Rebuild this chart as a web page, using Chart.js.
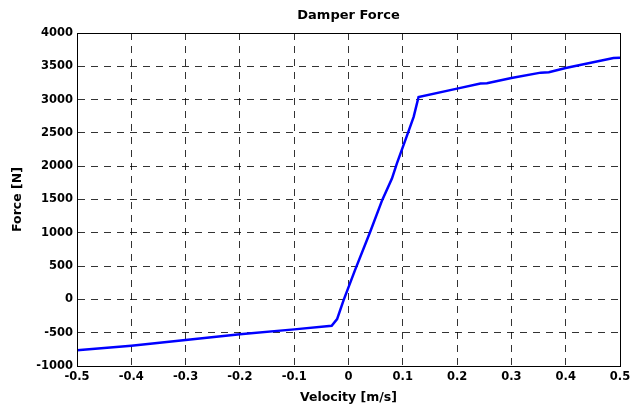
<!DOCTYPE html>
<html>
<head>
<meta charset="utf-8">
<script src="https://cdn.jsdelivr.net/npm/chart.js@4"></script>
<style>
  html, body { margin: 0; padding: 0; background: #fff; }
  #wrap { width: 630px; height: 410px; }
</style>
</head>
<body>
<div id="wrap"><canvas id="chart-damper"></canvas></div>
<script>
// --- Damper force vs velocity ---
const velocity = [-0.5, -0.4, -0.3, -0.2, -0.1, -0.031, -0.021, -0.009, 0.012, 0.040, 0.062, 0.080, 0.089, 0.109, 0.120, 0.129, 0.2, 0.243, 0.255, 0.3, 0.354, 0.369, 0.4, 0.488, 0.5];
const force    = [-765, -695, -610, -525, -450, -395, -295, -10, 440, 1015, 1490, 1815, 2040, 2490, 2740, 3040, 3165, 3240, 3245, 3325, 3405, 3410, 3475, 3625, 3630];

const titleText = "Damper Force";
const xLabel = "Velocity [m/s]";
const yLabel = "Force [N]";

const FONT = "'DejaVu Sans', sans-serif";

// box around plot area + title centred over it (MATLAB style)
const frame = {
  id: "frame",
  afterDraw(chart) {
    const { ctx, chartArea: a } = chart;
    ctx.save();
    ctx.strokeStyle = "#000";
    ctx.lineWidth = 1;
    ctx.strokeRect(a.left + 0.5, a.top + 0.5, a.right - a.left, a.bottom - a.top);
    ctx.fillStyle = "#000";
    ctx.font = "bold 13px " + FONT;
    ctx.textAlign = "center";
    ctx.textBaseline = "middle";
    ctx.fillText(titleText, (a.left + a.right) / 2, 16);
    ctx.restore();
  }
};

const points = velocity.map((v, i) => ({ x: v, y: force[i] }));

new Chart(document.getElementById("chart-damper").getContext("2d"), {
  type: "line",
  data: {
    datasets: [{
      data: points,
      borderColor: "#0000ff",
      borderWidth: 2.5,
      pointRadius: 0,
      tension: 0,
      fill: false
    }]
  },
  options: {
    responsive: true,
    maintainAspectRatio: false,
    animation: false,
    layout: { padding: { top: 33, right: 0, left: 0, bottom: 0 } },
    plugins: {
      legend: { display: false },
      title: { display: false },
      tooltip: { enabled: false }
    },
    scales: {
      x: {
        type: "linear",
        min: -0.5,
        max: 0.5,
        afterFit: s => { s.height = 44; s.paddingRight = 10; },
        ticks: {
          stepSize: 0.1,
          color: "#000",
          padding: 4,
          maxRotation: 0,
          font: { family: FONT, size: 11.5, weight: "bold" },
          callback: v => String(Math.round(v * 10) / 10)
        },
        grid: { color: "rgba(0,0,0,0.8)", lineWidth: 1, drawTicks: false },
        border: { display: true, color: "#000", dash: [7, 6] },
        title: {
          display: true,
          text: xLabel,
          color: "#000",
          padding: { top: 0, bottom: 5 },
          font: { family: FONT, size: 12.5, weight: "bold" }
        }
      },
      y: {
        min: -1000,
        max: 4000,
        afterFit: s => { s.width = 77; },
        ticks: {
          stepSize: 500,
          color: "#000",
          padding: 4,
          font: { family: FONT, size: 11.5, weight: "bold" },
          callback: v => String(v)
        },
        grid: { color: "rgba(0,0,0,0.8)", lineWidth: 1, drawTicks: false },
        border: { display: true, color: "#000", dash: [7, 6] },
        title: {
          display: true,
          text: yLabel,
          color: "#000",
          padding: { top: 10, bottom: 0 },
          font: { family: FONT, size: 12.5, weight: "bold" }
        }
      }
    }
  },
  plugins: [frame]
});
</script>
</body>
</html>
